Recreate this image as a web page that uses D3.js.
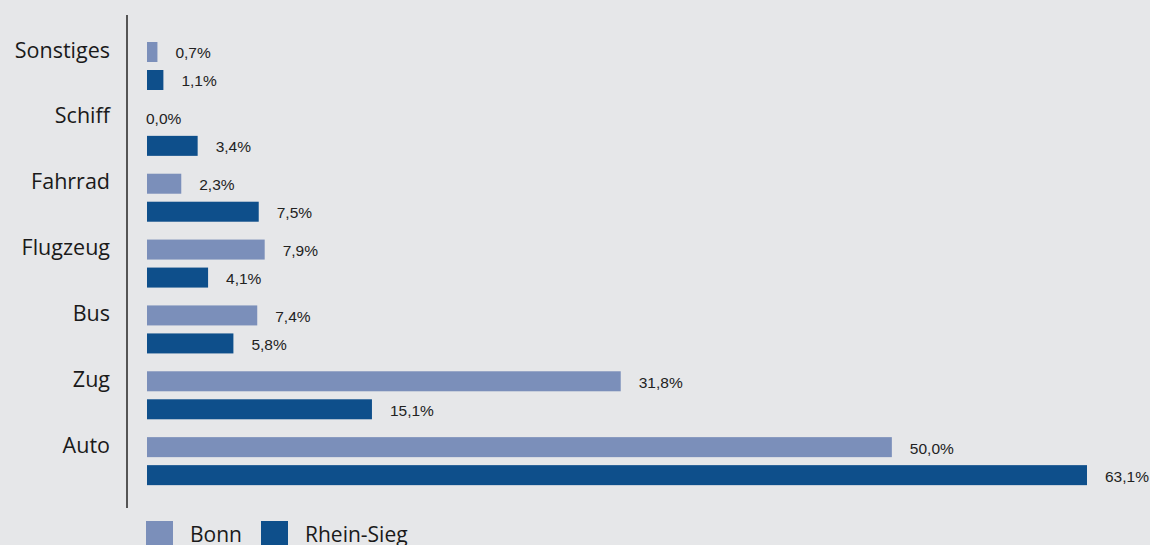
<!DOCTYPE html>
<html lang='de'>
<head>
  <meta charset='utf-8'>
  <title>Verkehrsmittel</title>
  <script src='https://d3js.org/d3.v7.min.js'></script>
  <style>
  body { margin: 0; background: #e6e7e9; }
  .cat { font-family: 'Open Sans', sans-serif; font-size: 21.5px; fill: #1a1a1a; }
  .val { font-family: 'Liberation Sans', Arial, sans-serif; font-size: 15.5px; fill: #222; }
  .leg { font-family: 'Open Sans', sans-serif; font-size: 21px; fill: #1a1a1a; }
  </style>
</head>
<body>
<script>
// data
var categories = ['Sonstiges', 'Schiff', 'Fahrrad', 'Flugzeug', 'Bus', 'Zug', 'Auto'];
var bonn = [0.7, 0.0, 2.3, 7.9, 7.4, 31.8, 50.0];
var rheinSieg = [1.1, 3.4, 7.5, 4.1, 5.8, 15.1, 63.1];
var seriesNames = ['Bonn', 'Rhein-Sieg'];
var colors = ['#7b8fba', '#0e4f8b'];

var width = 1150, height = 545;

var svg = d3.select('body').append('svg')
  .attr('width', width)
  .attr('height', height);

var x = d3.scaleLinear().domain([0, 63.1]).range([147, 1087]);

// one band per category, two bars inside
var y = d3.scaleBand().domain(categories).range([33, 494]).paddingInner(0).paddingOuter(0);
var inner = d3.scaleBand().domain(seriesNames).range([9, 57]).paddingInner(8 / 28);

var rows = categories.map(function(c, i) {
  return { cat: c, values: [bonn[i], rheinSieg[i]] };
});

// vertical axis line
svg.append('line')
  .attr('x1', 127).attr('x2', 127)
  .attr('y1', 15).attr('y2', 508)
  .attr('stroke', '#555').attr('stroke-width', 2);

var g = svg.selectAll('g.row')
  .data(rows)
  .enter().append('g')
  .attr('class', 'row')
  .attr('transform', function(d) { return 'translate(0,' + y(d.cat) + ')'; });

g.append('text')
  .attr('class', 'cat')
  .attr('x', 110)
  .attr('y', inner('Bonn') + inner.bandwidth() / 2 - 2)
  .attr('dy', '0.35em')
  .attr('text-anchor', 'end')
  .text(function(d) { return d.cat; });

g.selectAll('rect')
  .data(function(d) { return d.values; })
  .enter().append('rect')
  .attr('x', x(0))
  .attr('y', function(d, i) { return inner(seriesNames[i]); })
  .attr('width', function(d) { return x(d) - x(0); })
  .attr('height', inner.bandwidth())
  .attr('fill', function(d, i) { return colors[i]; });

g.selectAll('text.val')
  .data(function(d) { return d.values; })
  .enter().append('text')
  .attr('class', 'val')
  .attr('x', function(d) { return d === 0 ? x(0) - 1 : x(d) + 18; })
  .attr('y', function(d, i) { return inner(seriesNames[i]) + inner.bandwidth() / 2 + 1; })
  .attr('dy', '0.35em')
  .text(function(d) { return d3.format('.1f')(d).replace('.', ',') + '%'; });

// legend
var legX = [146, 261];
var leg = svg.selectAll('g.leg')
  .data(seriesNames)
  .enter().append('g')
  .attr('transform', function(d, i) { return 'translate(' + legX[i] + ',521)'; });

leg.append('rect')
  .attr('width', 27).attr('height', 27)
  .attr('fill', function(d, i) { return colors[i]; });

leg.append('text')
  .attr('class', 'leg')
  .attr('x', 44)
  .attr('y', 21)
  .text(function(d) { return d; });
</script>
</body>
</html>
